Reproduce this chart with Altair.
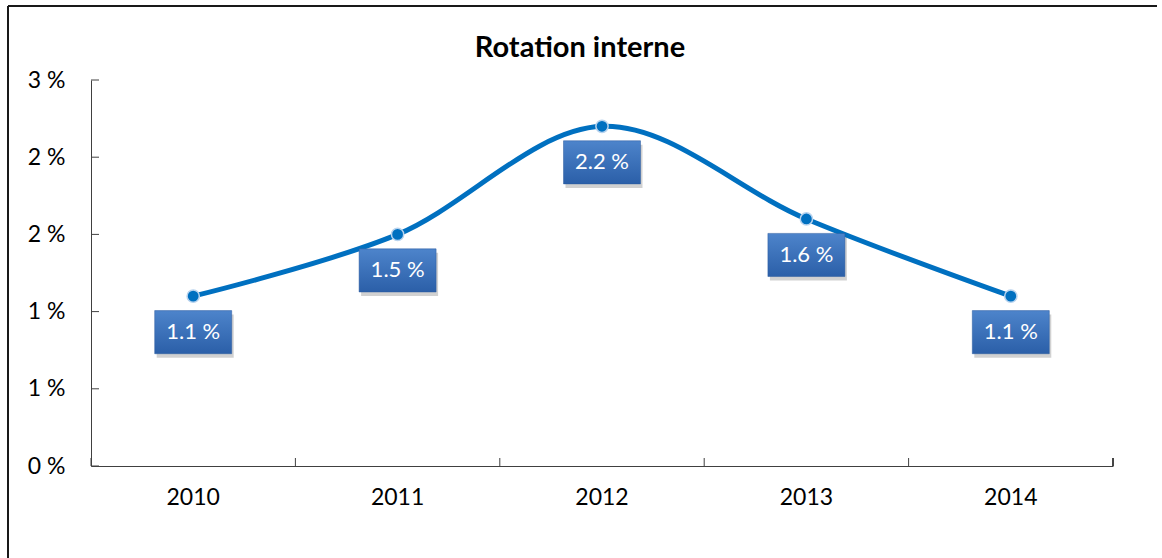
import altair as alt
import pandas as pd

# Internal rotation rate by year (in %)
years = ["2010", "2011", "2012", "2013", "2014"]
rates = [1.1, 1.5, 2.2, 1.6, 1.1]
y_ticks = [0, 0.5, 1.0, 1.5, 2.0, 2.5]
chart_title = "Rotation interne"

df = pd.DataFrame({"year": years, "rate": rates})
tick_df = pd.DataFrame({"rate": y_ticks})

W, H = 1022, 386
FONT = "Lato"
BLUE = "#0070c0"

x_scale = alt.Scale(domain=years, paddingInner=0, paddingOuter=0)
y_scale = alt.Scale(domain=[0, 2.5], nice=False, zero=True)

x_enc = alt.X(
    "year:N",
    scale=x_scale,
    axis=alt.Axis(
        title=None, labelAngle=0, ticks=False, domain=True, domainColor="#404040",
        domainWidth=1, labelFont=FONT, labelFontSize=23, labelColor="#000000",
        labelPadding=20, grid=False,
    ),
)
y_enc = alt.Y(
    "rate:Q",
    scale=y_scale,
    axis=alt.Axis(
        title=None, values=y_ticks, ticks=False, domain=True, domainColor="#404040",
        domainWidth=1, labelFont=FONT, labelFontSize=23, labelColor="#000000",
        labelPadding=26, grid=False, labelExpr="round(datum.value) + ' %'",
    ),
)

base = alt.Chart(df)

line = base.mark_line(color=BLUE, strokeWidth=5, interpolate="cardinal").encode(
    x=x_enc, y=y_enc
)

points = base.mark_point(
    filled=True, fill=BLUE, stroke="#b8d3ee", strokeWidth=1.5, size=150, opacity=1
).encode(x="year:N", y="rate:Q")

box_shape = "M-1,-0.56L1,-0.56L1,0.56L-1,0.56Z"

shadow = base.mark_point(
    shape=box_shape, filled=True, fill="#000000", opacity=0.18, size=5929,
    xOffset=2, yOffset=40,
).encode(x="year:N", y="rate:Q")

boxes = base.mark_point(
    shape=box_shape, filled=True, opacity=1, size=5929, yOffset=36,
    fill=alt.LinearGradient(
        gradient="linear",
        stops=[
            alt.GradientStop(color="#4d84cb", offset=0),
            alt.GradientStop(color="#2b5fa8", offset=1),
        ],
        x1=0, y1=0, x2=0, y2=1,
    ),
    stroke="#2a5a9e", strokeWidth=0.5,
).encode(x="year:N", y="rate:Q")

labels = base.mark_text(
    color="white", font=FONT, fontSize=22, dy=36, baseline="middle", align="center"
).encode(
    x="year:N",
    y="rate:Q",
    text=alt.Text("label:N"),
).transform_calculate(label="format(datum.rate, '.1f') + ' %'")

# inward tick marks on the value axis
y_tick_marks = alt.Chart(tick_df).mark_rule(color="#404040", strokeWidth=1).encode(
    y="rate:Q",
    x=alt.value(0),
    x2=alt.value(8),
)

# inward tick marks on the category axis, at band edges
x_tick_marks = base.mark_rule(color="#404040", strokeWidth=1).encode(
    x=alt.X("year:N", bandPosition=0),
    y=alt.value(H - 8),
    y2=alt.value(H),
)
x_end_tick = base.mark_rule(color="#404040", strokeWidth=1).encode(
    x=alt.value(W), y=alt.value(H - 8), y2=alt.value(H)
)

# outer chart frame (top and left edges)
frame_top = base.mark_rule(color="#1a1a1a", strokeWidth=1.5).encode(
    x=alt.value(8 - 91), x2=alt.value(1157 - 91), y=alt.value(6 - 80)
)
frame_left = base.mark_rule(color="#1a1a1a", strokeWidth=1.5).encode(
    x=alt.value(8 - 91), y=alt.value(6 - 80), y2=alt.value(600)
)

# chart heading, centred over the frame
heading = alt.Chart(pd.DataFrame({"title": [chart_title]})).mark_text(
    font=FONT, fontSize=29, fontWeight="bold", color="#000000",
    align="center", baseline="alphabetic",
).encode(
    text="title:N",
    x=alt.value(580 - 91),
    y=alt.value(57 - 80),
)

chart = alt.layer(
    line, frame_top, frame_left, y_tick_marks, x_tick_marks, x_end_tick,
    points, shadow, boxes, labels, heading,
).properties(
    width=W,
    height=H,
    padding={"left": 91, "top": 80, "right": 49, "bottom": 92},
    autosize=alt.AutoSizeParams(type="none"),
).configure(background="white").configure_view(stroke=None)

chart.save("out.html", embed_options={"renderer": "svg", "actions": False})
